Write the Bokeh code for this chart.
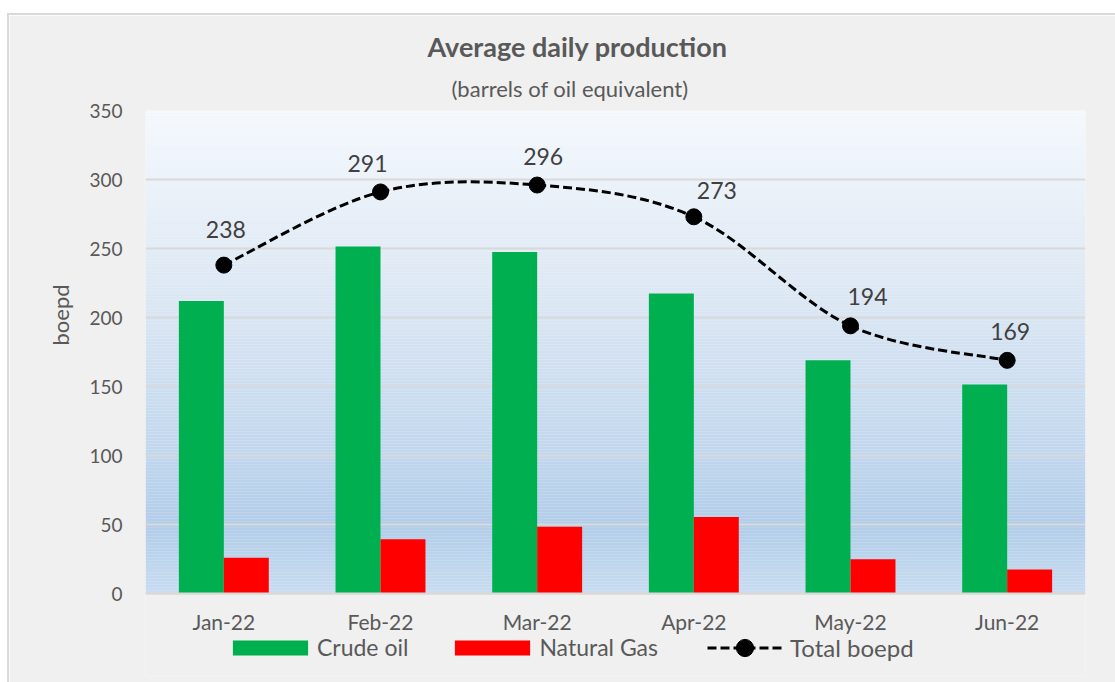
import numpy as np
from bokeh.plotting import figure
from bokeh.models import (Range1d, FixedTicker, ColumnDataSource, Legend,
                          LegendItem, Spacer, Title)
from bokeh.layouts import column, row
from bokeh.core.properties import value
from bokeh.embed import file_html
from bokeh.resources import INLINE

# ---------------- data ----------------
months = ["Jan-22", "Feb-22", "Mar-22", "Apr-22", "May-22", "Jun-22"]
crude_oil = [212, 251.5, 247.5, 217.5, 169, 151.5]
natural_gas = [26, 39.5, 48.5, 55.5, 25, 17.5]
total_boepd = [238, 291, 296, 273, 194, 169]
y_ticks = [0, 50, 100, 150, 200, 250, 300, 350]

# ---------------- styles ----------------
FONT = "Lato"
GREEN = "#00b050"
RED = "#ff0000"
GRID = "#d9d9d9"
TXT = "#595959"
LBL = "#404040"
BG = "#f0f0f0"
BAR_W = 0.287
label_dx = [2, -13, 6, 23, 17, 3]
label_dy = [-36, -28, -29, -26, -29, -29]

n = len(months)
xc = np.arange(n) + 0.5

p = figure(width=1106, height=667, x_range=Range1d(0, n), y_range=Range1d(-60, 350),
           title=None, output_backend="svg", toolbar_location=None,
           min_border_left=136, min_border_right=30, min_border_top=95, min_border_bottom=6,
           background_fill_color=BG, border_fill_color=BG, outline_line_color=None)

# gradient plot-area background (decorative, 0..350 only)
stops = [(0.0, (245, 249, 254)), (0.39, (219, 231, 244)), (0.70, (193, 215, 238)),
         (0.86, (177, 205, 233)), (1.0, (199, 220, 241))]
N = 161
edges = np.linspace(0, 350, N + 1)
cols = []
for k in range(N):
    t = 1 - (edges[k] + edges[k + 1]) / 2 / 350.0
    for j in range(len(stops) - 1):
        if stops[j][0] <= t <= stops[j + 1][0]:
            a, ca = stops[j]
            b, cb = stops[j + 1]
            f = (t - a) / (b - a)
            c = tuple(int(round(ca[i] + f * (cb[i] - ca[i]))) for i in range(3))
            break
    cols.append("#%02x%02x%02x" % c)
p.quad(left=0, right=n, bottom=edges[:-1], top=edges[1:], fill_color=cols, line_color=None,
       level="image")

# gridlines (above the gradient, below the bars)
p.xgrid.visible = False
p.ygrid.ticker = FixedTicker(ticks=y_ticks)
p.ygrid.grid_line_color = GRID
p.ygrid.grid_line_width = 2
p.ygrid.level = "underlay"

# bars
src = ColumnDataSource(dict(xc=xc - BAR_W / 2, xg=xc + BAR_W / 2, crude=crude_oil, gas=natural_gas))
r_crude = p.vbar(x="xc", top="crude", width=BAR_W, source=src, fill_color=GREEN, line_color=None)
r_gas = p.vbar(x="xg", top="gas", width=BAR_W, source=src, fill_color=RED, line_color=None)

# smoothed total line (Bezier segments through the data points)
P = list(zip(xc, total_boepd))
bx0, by0, bx1, by1, cx0, cy0, cx1, cy1 = ([] for _ in range(8))
for i in range(n - 1):
    pm = P[i - 1] if i > 0 else P[i]
    p0 = P[i]
    p1 = P[i + 1]
    p2 = P[i + 2] if i + 2 < n else P[i + 1]
    bx0.append(p0[0]); by0.append(p0[1]); bx1.append(p1[0]); by1.append(p1[1])
    cx0.append(p0[0] + (p1[0] - pm[0]) / 6); cy0.append(p0[1] + (p1[1] - pm[1]) / 6)
    cx1.append(p1[0] - (p2[0] - p0[0]) / 6); cy1.append(p1[1] - (p2[1] - p0[1]) / 6)
r_bez = p.bezier(x0=bx0, y0=by0, x1=bx1, y1=by1, cx0=cx0, cy0=cy0, cx1=cx1, cy1=cy1,
                 line_color="black", line_width=3, line_dash="9 4")
r_pts = p.scatter(x=xc, y=total_boepd, size=16, fill_color="black", line_color="black")

lsrc = ColumnDataSource(dict(x=xc, y=total_boepd, t=[str(v) for v in total_boepd],
                             dx=label_dx, dy=label_dy))
p.text(x="x", y="y", text="t", x_offset="dx", y_offset="dy", source=lsrc,
       text_font=value(FONT), text_font_size="23px", text_color=LBL,
       text_align="center", text_baseline="middle")

# axes
p.xaxis.ticker = FixedTicker(ticks=list(xc))
p.xaxis.major_label_overrides = {float(x): m for x, m in zip(xc, months)}
p.xaxis.fixed_location = 0
p.yaxis.ticker = FixedTicker(ticks=y_ticks)
for ax in (p.xaxis, p.yaxis):
    ax.major_tick_line_color = None
    ax.minor_tick_line_color = None
    ax.major_label_text_font = FONT
    ax.major_label_text_color = TXT
p.xaxis.major_label_text_font_size = "21px"
p.yaxis.major_label_text_font_size = "19px"
p.xaxis.axis_line_color = GRID
p.xaxis.axis_line_width = 2
p.yaxis.axis_line_color = None
p.xaxis.major_label_standoff = 9
p.yaxis.major_label_standoff = 17

# titles (first added sits closest to the frame)
p.add_layout(Title(text="(barrels of oil equivalent)", align="left", offset=306, standoff=17,
                   text_font=FONT, text_font_size="22px", text_font_style="normal",
                   text_color=TXT), "above")
p.add_layout(Title(text="Average daily production", align="left", offset=282, standoff=3,
                   text_font=FONT, text_font_size="27px", text_font_style="bold",
                   text_color=TXT), "above")
p.add_layout(Title(text="boepd", align="left", offset=331, standoff=25,
                   text_font=FONT, text_font_size="22px", text_font_style="normal",
                   text_color=TXT), "left")

# legends (inside the frame, below the x axis)
leg1 = Legend(items=[LegendItem(label="Crude oil", renderers=[r_crude]),
                     LegendItem(label="Natural Gas", renderers=[r_gas])],
              orientation="horizontal", location=(78, 15), glyph_width=94, glyph_height=19,
              label_standoff=0, spacing=37, padding=0, margin=0,
              border_line_color=None, background_fill_alpha=0,
              label_text_font=FONT, label_text_font_size="23px", label_text_color=TXT)
leg2 = Legend(items=[LegendItem(label="Total boepd", renderers=[r_bez, r_pts])],
              orientation="horizontal", location=(562, 7), glyph_width=75, glyph_height=43,
              label_standoff=8, padding=0, margin=0,
              border_line_color=None, background_fill_alpha=0,
              label_text_font=FONT, label_text_font_size="24px", label_text_color=TXT)
p.add_layout(leg1)
p.add_layout(leg2)

# chart-area border lines (top and left) as thin coloured spacers
edge = {"background-color": GRID}
top_line = row(Spacer(width=7, height=2), Spacer(width=1108, height=2, styles=edge))
body = row(Spacer(width=7, height=667), Spacer(width=2, height=667, styles=edge), p)
layout = column(Spacer(height=13), top_line, body)
open("out.html", "w").write(file_html(layout, INLINE))
